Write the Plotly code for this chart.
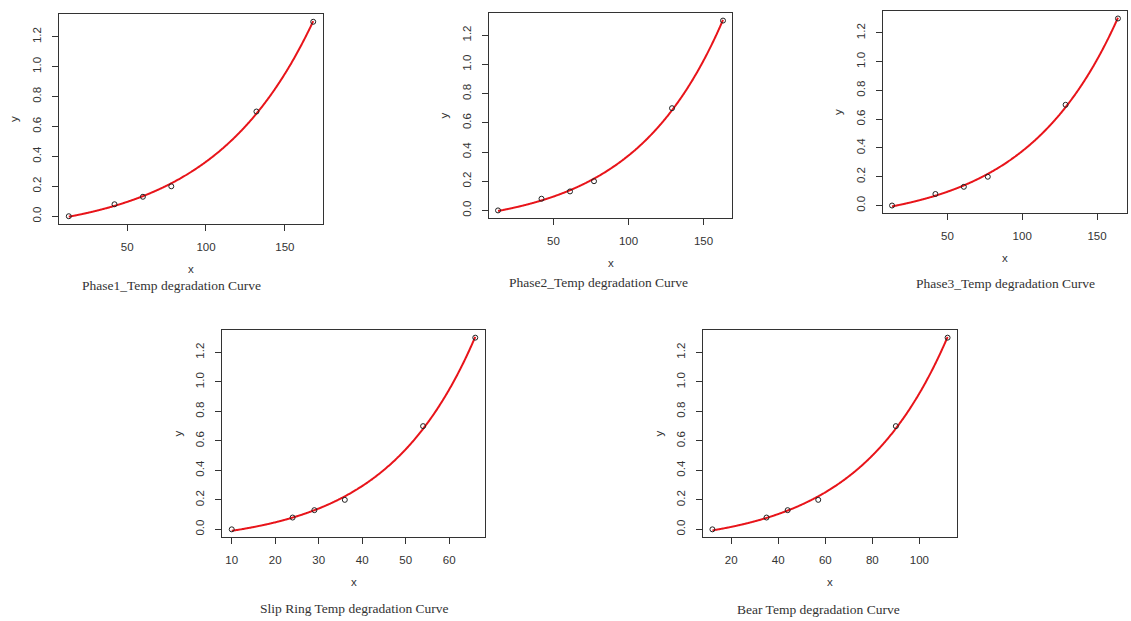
import numpy as np
import plotly.graph_objects as go

W, H = 1131, 621

titles = ["Phase1_Temp degradation Curve", "Phase2_Temp degradation Curve",
          "Phase3_Temp degradation Curve", "Slip Ring Temp degradation Curve",
          "Bear Temp degradation Curve"]
x_phase1 = [13, 42, 60, 78, 132, 168]
x_phase2 = [13, 42, 61, 77, 129, 163]
x_phase3 = [13, 42, 61, 77, 129, 164]
x_slip = [10, 24, 29, 36, 54, 66]
x_bear = [12, 35, 44, 57, 90, 112]
y_vals = [0.0, 0.08, 0.13, 0.2, 0.7, 1.3]
x_ticks = [[50, 100, 150], [50, 100, 150], [50, 100, 150],
           [10, 20, 30, 40, 50, 60], [20, 40, 60, 80, 100]]
y_ticks = [0.0, 0.2, 0.4, 0.6, 0.8, 1.0, 1.2]

xs_all = [x_phase1, x_phase2, x_phase3, x_slip, x_bear]

# pixel boxes: left, right, top, bottom
boxes = [(59, 323, 14, 224), (489, 732, 13, 218), (883, 1127, 11, 213),
         (222, 485, 330, 537), (703, 957, 330, 537)]
title_pos = [(171, 285), (598, 282), (1005, 283), (354, 608), (818, 609)]


def fit_exp(x, y):
    x = np.asarray(x, float)
    y = np.asarray(y, float)
    best = None
    for b in np.linspace(0.001, 0.2, 4000):
        A = np.column_stack([np.exp(b * x), np.ones_like(x)])
        coef, *_ = np.linalg.lstsq(A, y, rcond=None)
        sse = np.sum((A @ coef - y) ** 2)
        if best is None or sse < best[0]:
            best = (sse, b, coef)
    _, b, (a, c) = best
    return lambda t: a * np.exp(b * t) + c


def r_range(v):
    lo, hi = min(v), max(v)
    d = (hi - lo) * 0.04
    return [lo - d, hi + d]


fig = go.Figure()
annotations = []
tickfont = dict(family="Liberation Sans, Arial", size=11.5, color="#333")
for i, (xv, box) in enumerate(zip(xs_all, boxes)):
    n = "" if i == 0 else str(i + 1)
    L, R, T, B = box
    xd = [L / W, R / W]
    yd = [1 - B / H, 1 - T / H]
    f = fit_exp(xv, y_vals)
    xc = np.linspace(min(xv), max(xv), 300)
    fig.add_trace(go.Scatter(x=xc, y=f(xc), mode="lines",
                             line=dict(color="#e8141a", width=2, shape="spline"),
                             xaxis="x" + n, yaxis="y" + n, showlegend=False,
                             hoverinfo="skip"))
    fig.add_trace(go.Scatter(x=xv, y=y_vals, mode="markers",
                             marker=dict(symbol="circle-open", size=5,
                                         color="#222", line=dict(width=1, color="#222")),
                             xaxis="x" + n, yaxis="y" + n, showlegend=False))
    common = dict(showline=True, mirror=True, linecolor="#333", linewidth=1,
                  ticks="outside", ticklen=6, tickcolor="#333", showgrid=False,
                  zeroline=False, tickfont=tickfont, ticklabelstandoff=6)
    fig.layout["xaxis" + n] = dict(domain=xd, range=r_range(xv), tickvals=x_ticks[i],
                                   anchor="y" + n, **common)
    fig.layout["yaxis" + n] = dict(domain=yd, range=r_range(y_vals), tickvals=y_ticks,
                                   tickformat=".1f", tickangle=-90, anchor="x" + n, **common)
    # axis titles
    annotations.append(dict(x=(L + R) / 2 / W, y=1 - (B + 45) / H, xref="paper", yref="paper",
                            text="x", showarrow=False, font=dict(family="Liberation Sans, Arial", size=11.5, color="#333"),
                            xanchor="center", yanchor="middle"))
    annotations.append(dict(x=(L - 45) / W, y=1 - (T + B) / 2 / H, xref="paper", yref="paper",
                            text="y", showarrow=False, textangle=-90,
                            font=dict(family="Liberation Sans, Arial", size=11.5, color="#333"),
                            xanchor="center", yanchor="middle"))
    tx, ty = title_pos[i]
    annotations.append(dict(x=tx / W, y=1 - ty / H, xref="paper", yref="paper",
                            text=titles[i], showarrow=False,
                            font=dict(family="Liberation Serif, serif", size=13.5, color="#333"),
                            xanchor="center", yanchor="middle"))

fig.update_layout(width=W, height=H, margin=dict(l=0, r=0, t=0, b=0),
                  paper_bgcolor="white", plot_bgcolor="white",
                  annotations=annotations)
fig.write_html("out.html")
